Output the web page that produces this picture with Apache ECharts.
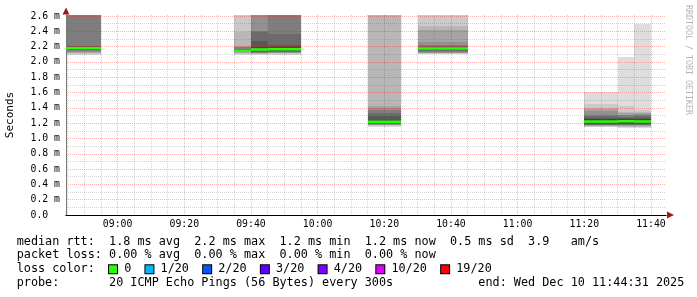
<!DOCTYPE html>
<html><head><meta charset="utf-8">
<script src="https://cdn.jsdelivr.net/npm/echarts@6/dist/echarts.min.js"></script>
<style>html,body{margin:0;padding:0;background:#fff}#c{width:697px;height:297px}</style>
</head><body><div id="c"></div>
<script>
// ---- data ----
const timeStart = '08:44:31';
const timeEnd = '11:44:31';
const slotMinutes = 5;
const xTickLabels = ['09:00','09:20','09:40','10:00','10:20','10:40','11:00','11:20','11:40'];
const yTickValues = [0,0.2,0.4,0.6,0.8,1.0,1.2,1.4,1.6,1.8,2.0,2.2,2.4,2.6];
const yMinorValues = [0.1,0.3,0.5,0.7,0.9,1.1,1.3,1.5,1.7,1.9,2.1,2.3,2.5];
const yMax = 2.613;

const slotStart = ['08:40','08:45','08:50','09:35','09:40','09:45','09:50','10:15','10:20','10:30','10:35','10:40','11:20','11:25','11:30','11:35'];
// 20 sorted ping RTTs per slot (ms)
const pings = [
  [2.09,2.10,2.11,2.12,2.13,2.14,2.15,2.16,2.17,2.175,2.185,2.195,2.205,2.212,2.75,2.8,2.85,2.9,3.0,3.1],
  [2.09,2.10,2.11,2.12,2.13,2.14,2.15,2.16,2.17,2.175,2.185,2.195,2.205,2.212,2.75,2.8,2.85,2.9,3.0,3.1],
  [2.09,2.10,2.11,2.12,2.13,2.14,2.15,2.16,2.17,2.175,2.185,2.195,2.205,2.212,2.75,2.8,2.85,2.9,3.0,3.1],
  [2.09,2.10,2.11,2.12,2.125,2.13,2.135,2.14,2.143,2.145,2.148,2.155,2.165,2.175,2.19,2.20,2.212,2.387,2.8,2.9],
  [2.095,2.10,2.105,2.11,2.115,2.12,2.13,2.14,2.15,2.16,2.168,2.19,2.27,2.39,2.40,2.8,2.85,2.9,3.0,3.1],
  [2.095,2.10,2.11,2.115,2.12,2.125,2.135,2.145,2.155,2.162,2.172,2.19,2.218,2.365,2.8,2.85,2.9,2.95,3.0,3.1],
  [2.095,2.10,2.11,2.115,2.12,2.125,2.135,2.145,2.155,2.162,2.172,2.19,2.218,2.365,2.8,2.85,2.9,2.95,3.0,3.1],
  [1.15,1.16,1.17,1.175,1.18,1.185,1.19,1.20,1.205,1.21,1.225,1.244,1.287,1.332,1.375,1.397,1.427,2.8,2.9,3.0],
  [1.15,1.16,1.17,1.175,1.18,1.185,1.19,1.20,1.205,1.21,1.225,1.244,1.287,1.332,1.375,1.397,1.427,2.8,2.9,3.0],
  [2.10,2.105,2.11,2.115,2.12,2.125,2.14,2.15,2.16,2.168,2.178,2.185,2.192,2.21,2.222,2.257,2.417,2.473,2.8,2.9],
  [2.10,2.105,2.11,2.115,2.12,2.125,2.14,2.15,2.16,2.168,2.178,2.185,2.192,2.21,2.222,2.257,2.417,2.473,2.8,2.9],
  [2.10,2.105,2.11,2.115,2.12,2.125,2.14,2.15,2.16,2.168,2.178,2.185,2.192,2.21,2.222,2.257,2.417,2.473,2.8,2.9],
  [1.144,1.15,1.16,1.165,1.17,1.175,1.18,1.19,1.20,1.215,1.23,1.25,1.27,1.29,1.31,1.36,1.384,1.40,1.449,1.605],
  [1.144,1.15,1.16,1.165,1.17,1.175,1.18,1.19,1.20,1.215,1.23,1.25,1.27,1.29,1.31,1.36,1.384,1.40,1.449,1.605],
  [1.136,1.145,1.155,1.165,1.17,1.175,1.18,1.19,1.20,1.22,1.235,1.25,1.265,1.28,1.30,1.31,1.33,1.352,1.418,2.07],
  [1.136,1.145,1.155,1.165,1.17,1.175,1.18,1.19,1.20,1.215,1.232,1.25,1.27,1.287,1.30,1.32,1.335,1.35,1.375,2.495]
];
const medianRtt = [2.18,2.18,2.18,2.146,2.163,2.166,2.166,1.218,1.218,2.175,2.175,2.175,1.221,1.221,1.225,1.222];
const lossCount = [0,0,0,0,0,0,0,0,0,0,0,0,0,0,0,0];

const lossLegendLabels = ['0','1/20','2/20','3/20','4/20','10/20','19/20'];
const lossLegendThresholds = [0,1,2,3,4,10,19];
const lossLegendColors = ['#26ff00','#00b8ff','#0059ff','#5e00ff','#7e00ff','#dd00ff','#ff0000'];

const rttStats = ['1.8 ms avg','2.2 ms max','1.2 ms min','1.2 ms now','0.5 ms sd','3.9   am/s'];
const lossStats = ['0.00 % avg','0.00 % max','0.00 % min','0.00 % now'];
const probeText = '20 ICMP Echo Pings (56 Bytes) every 300s';
const endText = 'end: Wed Dec 10 11:44:31 2025';
const watermark = 'RRDTOOL / TOBI OETIKER';

// ---- helpers ----
const toMin = s => { const p = s.split(':').map(Number); return p[0]*60 + p[1] + (p[2]||0)/60; };
const fmtTime = v => { const h = Math.floor(v/60 + 1e-9), m = Math.round(v - h*60); return String(h).padStart(2,'0') + ':' + String(m).padStart(2,'0'); };
const xMin = toMin(timeStart), xMax = toMin(timeEnd);
const xMajor = xTickLabels.map(toMin);
const xMinor = [];
for (let t = Math.ceil(xMin/5)*5; t <= xMax; t += 5) if (t % 20 !== 0) xMinor.push(t);
const lossColor = l => { let c = lossLegendColors[0]; lossLegendThresholds.forEach((t,i)=>{ if (l >= t) c = lossLegendColors[i]; }); return c; };

const MONO = 'DejaVu Sans Mono';
const majorGrid = {color:'rgba(255,0,0,0.3)', width:1, type:[1,1]};
const minorGrid = {color:'rgba(110,110,110,0.3)', width:1, type:[1,1]};
const arrowColor = '#a01818';

const smokeData = slotStart.map((t,i) => [toMin(t), toMin(t)+slotMinutes].concat(pings[i]));
const medianData = slotStart.map((t,i) => [toMin(t), toMin(t)+slotMinutes, medianRtt[i], lossCount[i]]);

// legend lines
const line1 = 'median rtt:  ' + rttStats.join('  ');
const line2 = 'packet loss: ' + lossStats.join('  ');
let line3 = 'loss color:  ';
const rich = {};
lossLegendLabels.forEach((lab,i) => {
  rich['b'+i] = {width:8, height:8, backgroundColor:lossLegendColors[i], borderColor:'#000', borderWidth:1, verticalAlign:'middle'};
  line3 += '{b'+i+'|} ' + lab + (i < lossLegendLabels.length-1 ? '  ' : '');
});
const line4 = 'probe:       ' + probeText + ' '.repeat(12) + endText;

const chart = echarts.init(document.getElementById('c'), null, {renderer:'canvas'});
const axisText = {fontFamily:MONO, fontSize:9.8, color:'#000'};
const textEl = (y, text, extra) => ({type:'text', x:16.7, y:y, silent:true,
  style:Object.assign({text:text, fill:'#000', fontFamily:MONO, fontSize:11.8, verticalAlign:'middle', align:'left'}, extra||{})});

chart.setOption({
  animation:false,
  backgroundColor:'#fff',
  grid:{left:66, right:31, top:15, bottom:82, outerBoundsMode:'none', containLabel:false},
  xAxis:[
    {type:'value', min:xMin, max:xMax, position:'bottom', z:5,
     axisLine:{show:true, onZero:false, lineStyle:{color:'#000', width:1}},
     axisTick:{show:false, customValues:xMajor},
     axisLabel:Object.assign({customValues:xMajor, margin:4, formatter:v=>fmtTime(v)}, axisText),
     splitLine:{show:true, lineStyle:majorGrid}},
    {type:'value', min:xMin, max:xMax, position:'bottom', z:4,
     axisLine:{show:false}, axisTick:{show:false, customValues:xMinor}, axisLabel:{show:false},
     splitLine:{show:true, lineStyle:minorGrid}},
    {type:'value', min:xMin, max:xMax, position:'bottom', z:4,
     axisLine:{show:true, onZero:false, symbol:['none','triangle'], symbolSize:[7,7], symbolOffset:[0,4.5], lineStyle:{color:arrowColor, width:1}},
     axisTick:{show:false}, axisLabel:{show:false}, splitLine:{show:false}}
  ],
  yAxis:[
    {type:'value', min:0, max:yMax, position:'left', z:5,
     name:'Seconds', nameLocation:'middle', nameGap:50, nameRotate:90,
     nameTextStyle:{fontFamily:MONO, fontSize:11, color:'#000'},
     axisLine:{show:true, onZero:false, lineStyle:{color:'#777', width:1}},
     axisTick:{show:false, customValues:yTickValues},
     axisLabel:Object.assign({customValues:yTickValues, margin:6, formatter:v => v === 0 ? '0.0  ' : v.toFixed(1) + ' m'}, axisText),
     splitLine:{show:true, lineStyle:majorGrid}},
    {type:'value', min:0, max:yMax, position:'left', z:4,
     axisLine:{show:false}, axisTick:{show:false, customValues:yMinorValues}, axisLabel:{show:false},
     splitLine:{show:true, lineStyle:minorGrid}},
    {type:'value', min:0, max:yMax, position:'left', z:4,
     axisLine:{show:true, onZero:false, symbol:['none','triangle'], symbolSize:[7,7], symbolOffset:[0,4], lineStyle:{color:arrowColor, width:1}},
     axisTick:{show:false}, axisLabel:{show:false}, splitLine:{show:false}}
  ],
  series:[
    {type:'custom', name:'smoke', xAxisIndex:0, yAxisIndex:0, z:2, silent:true,
     data:smokeData, encode:{x:[0,1], y:[2]},
     renderItem:function(params, api){
       const cs = params.coordSys;
       const x0 = api.value(0), x1 = api.value(1);
       const n = pings[0].length, half = n/2;
       const vals = []; for (let k=0;k<n;k++) vals.push(api.value(2+k));
       const cx = v => Math.min(Math.max(v, cs.x), cs.x + cs.width);
       const cy = v => Math.min(Math.max(v, cs.y), cs.y + cs.height);
       const children = [];
       for (let ibot = 1, itop = n; itop > ibot; ibot++, itop--) {
         const c = Math.floor(190/half*(half-ibot)) + 50;
         const a = api.coord([x0, vals[itop-1]]), b = api.coord([x1, vals[ibot-1]]);
         const l = Math.round(cx(a[0])), r = Math.round(cx(b[0]));
         const t = Math.round(cy(a[1])), btm = Math.round(cy(b[1]));
         if (btm > t && r > l) children.push({type:'rect', shape:{x:l, y:t, width:r-l, height:btm-t}, style:{fill:'rgb('+c+','+c+','+c+')'}});
       }
       return {type:'group', children:children};
     }},
    {type:'custom', name:'median', xAxisIndex:0, yAxisIndex:0, z:20, silent:true,
     data:medianData, encode:{x:[0,1], y:[2]},
     renderItem:function(params, api){
       const cs = params.coordSys;
       const cx = v => Math.min(Math.max(v, cs.x), cs.x + cs.width);
       const a = api.coord([api.value(0), api.value(2)]), b = api.coord([api.value(1), api.value(2)]);
       const l = Math.round(cx(a[0])), r = Math.round(cx(b[0]));
       return {type:'rect', shape:{x:l, y:a[1]-1.25, width:r-l, height:2.5}, style:{fill:lossColor(api.value(3))}};
     }}
  ],
  graphic:[
    textEl(241.7, line1),
    textEl(255, line2),
    textEl(269.3, line3, {rich:rich}),
    textEl(282.7, line4),
    {type:'text', x:688, y:5, rotation:-Math.PI/2, silent:true,
     style:{text:watermark, fill:'#b4b4b4', fontFamily:MONO, fontSize:8.3, align:'left', verticalAlign:'middle'}}
  ]
});
</script></body></html>
